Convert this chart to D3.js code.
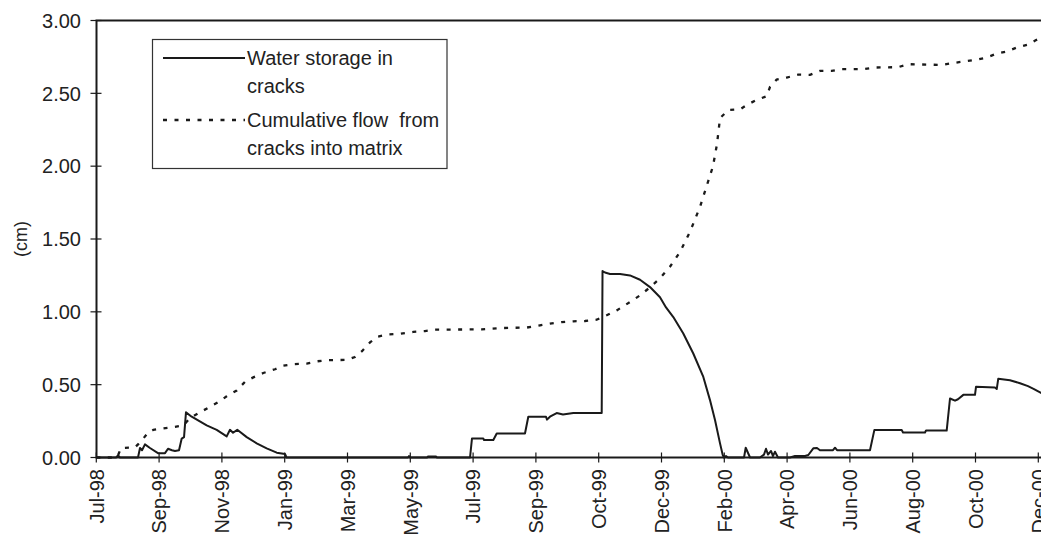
<!DOCTYPE html>
<html>
<head>
<meta charset="utf-8">
<script src="https://cdn.jsdelivr.net/npm/d3@7"></script>
<style>
  html, body { margin: 0; padding: 0; background: #fff; }
  svg { display: block; font-family: "Liberation Sans", Arial, sans-serif; }
</style>
</head>
<body>
<svg id="chart" width="1041" height="540"></svg>
<script>
// Category labels along the time axis (one tick per label, evenly spaced)
const tickLabels = ["Jul-98", "Sep-98", "Nov-98", "Jan-99", "Mar-99", "May-99", "Jul-99",
  "Sep-99", "Oct-99", "Dec-99", "Feb-00", "Apr-00", "Jun-00", "Aug-00", "Oct-00", "Dec-00"];

// Y axis ticks (cm)
const yTicks = [0, 0.5, 1.0, 1.5, 2.0, 2.5, 3.0];

// Water storage in cracks: [position along tick sequence, cm]
const storage = [
  [0, 0], [0.314, 0], [0.346, 0.015], [0.377, 0], [0.664, 0], [0.696, 0.065], [0.728, 0.05],
  [0.775, 0.09], [0.855, 0.065], [0.982, 0.03], [1.094, 0.03], [1.142, 0.06], [1.205, 0.05],
  [1.253, 0.045], [1.317, 0.05], [1.360, 0.13], [1.397, 0.14], [1.428, 0.31], [1.519, 0.28],
  [1.758, 0.22], [1.917, 0.19], [2.076, 0.145], [2.129, 0.19], [2.177, 0.17], [2.245, 0.19],
  [2.395, 0.14], [2.554, 0.097], [2.713, 0.063], [2.873, 0.033], [3.005, 0.024], [3.029, 0],
  [4.963, 0], [4.979, 0.01], [4.995, 0], [5.266, 0], [5.282, 0.007], [5.409, 0.007], [5.425, 0],
  [5.951, 0], [5.982, 0.13], [6.162, 0.13], [6.174, 0.12], [6.322, 0.12], [6.376, 0.165],
  [6.826, 0.165], [6.879, 0.28], [7.161, 0.28], [7.177, 0.26], [7.224, 0.28], [7.331, 0.305],
  [7.431, 0.295], [7.596, 0.305], [8.048, 0.305], [8.061, 1.28], [8.100, 1.27], [8.180, 1.26],
  [8.340, 1.26], [8.498, 1.25], [8.658, 1.22], [8.817, 1.17], [8.976, 1.10], [9.072, 1.03],
  [9.188, 0.964], [9.347, 0.851], [9.506, 0.714], [9.666, 0.553], [9.772, 0.394], [9.852, 0.257],
  [9.932, 0.097], [9.975, 0.017],
  [9.995, 0], [10.027, 0.01], [10.059, 0], [10.314, 0], [10.341, 0.067], [10.41, 0], [10.568, 0],
  [10.632, 0.02], [10.664, 0.06], [10.696, 0.02], [10.744, 0.045], [10.775, 0.01], [10.807, 0.04],
  [10.855, 0], [11.046, 0], [11.126, 0.01], [11.285, 0.01], [11.338, 0.017], [11.417, 0.063],
  [11.476, 0.065], [11.524, 0.05], [11.731, 0.05], [11.763, 0.067], [11.795, 0.05], [12.32, 0.05],
  [12.389, 0.188], [12.825, 0.188], [12.846, 0.172], [13.196, 0.172], [13.212, 0.185],
  [13.541, 0.185], [13.594, 0.405], [13.674, 0.39], [13.721, 0.40], [13.806, 0.43], [13.992, 0.43],
  [14.008, 0.485], [14.310, 0.48], [14.338, 0.47], [14.362, 0.54], [14.549, 0.53], [14.709, 0.51],
  [14.836, 0.49], [14.932, 0.47], [15.06, 0.44]
];

// Cumulative flow from cracks into matrix: [position along tick sequence, cm]
const flow = [
  [0, 0], [0.314, 0], [0.346, 0.015], [0.393, 0.065], [0.616, 0.07], [0.664, 0.09], [0.748, 0.13],
  [0.823, 0.17], [0.908, 0.19], [1.067, 0.20], [1.253, 0.21], [1.385, 0.22], [1.492, 0.27],
  [1.651, 0.31], [1.943, 0.38], [2.076, 0.42], [2.236, 0.46], [2.368, 0.52], [2.5, 0.55],
  [2.659, 0.58], [2.846, 0.606], [2.978, 0.63], [3.137, 0.64], [3.350, 0.645], [3.510, 0.66],
  [3.669, 0.668], [3.992, 0.67], [4.119, 0.69], [4.231, 0.73], [4.358, 0.79], [4.486, 0.83],
  [4.645, 0.845], [4.836, 0.85], [5.048, 0.862], [5.234, 0.868], [5.393, 0.878], [5.580, 0.878],
  [6.137, 0.88], [6.476, 0.889], [6.853, 0.892], [7.065, 0.907], [7.224, 0.919], [7.411, 0.93],
  [7.596, 0.935], [7.782, 0.937], [7.968, 0.946], [8.127, 0.976], [8.287, 1.01], [8.498, 1.067],
  [8.658, 1.113], [8.790, 1.159], [8.976, 1.23], [9.135, 1.31], [9.294, 1.41], [9.454, 1.55],
  [9.613, 1.72], [9.724, 1.87], [9.820, 2.00], [9.883, 2.15], [9.932, 2.33], [10.064, 2.385],
  [10.250, 2.39], [10.357, 2.42], [10.516, 2.455], [10.675, 2.48], [10.728, 2.545], [10.834, 2.594],
  [10.994, 2.608], [11.178, 2.629], [11.365, 2.627], [11.524, 2.654], [11.710, 2.654],
  [11.869, 2.666], [12.213, 2.666], [12.400, 2.677], [12.771, 2.68], [12.930, 2.70], [13.478, 2.695],
  [13.621, 2.707], [13.806, 2.718], [13.992, 2.729], [14.178, 2.745], [14.338, 2.773],
  [14.497, 2.787], [14.656, 2.814], [14.854, 2.837], [14.958, 2.864], [15.06, 2.885]
];

const legendItems = [
  { lines: ["Water storage in", "cracks"], dash: null },
  { lines: ["Cumulative flow  from", "cracks into matrix"], dash: "4,7.5" }
];

const svg = d3.select("#chart");
const ink = "#1a1a1a";

const plot = { left: 96.5, top: 20.5, right: 1046, bottom: 457.5 };

const x = d3.scaleLinear().domain([0, tickLabels.length - 1]).range([96.3, 1038.3]);
const y = d3.scaleLinear().domain([0, 3]).range([plot.bottom, plot.top]);

// Plot frame
svg.append("rect")
  .attr("x", plot.left).attr("y", plot.top)
  .attr("width", plot.right - plot.left).attr("height", plot.bottom - plot.top)
  .attr("fill", "none").attr("stroke", ink).attr("stroke-width", 2);

// Y axis: crossing ticks and labels
const yAxis = svg.append("g");
yAxis.selectAll("line").data(yTicks).join("line")
  .attr("x1", plot.left - 6).attr("x2", plot.left + 5)
  .attr("y1", d => y(d)).attr("y2", d => y(d))
  .attr("stroke", ink).attr("stroke-width", 1.2);
yAxis.selectAll("text").data(yTicks).join("text")
  .attr("x", 81).attr("y", d => y(d)).attr("dy", "0.36em")
  .attr("text-anchor", "end").attr("font-size", 20).attr("fill", "#222")
  .text(d => d3.format(".2f")(d));

svg.append("text")
  .attr("transform", `translate(21,${y(1.5)}) rotate(-90)`)
  .attr("text-anchor", "middle").attr("dy", "0.35em")
  .attr("font-size", 18).attr("fill", "#222")
  .text("(cm)");

// X axis: crossing ticks and rotated category labels
const xAxis = svg.append("g");
xAxis.selectAll("line").data(tickLabels).join("line")
  .attr("x1", (d, i) => x(i)).attr("x2", (d, i) => x(i))
  .attr("y1", plot.bottom - 5).attr("y2", plot.bottom + 5)
  .attr("stroke", ink).attr("stroke-width", 1.2);
xAxis.selectAll("text").data(tickLabels).join("text")
  .attr("transform", (d, i) => `translate(${x(i)},469) rotate(-90)`)
  .attr("text-anchor", "end").attr("dy", "0.36em")
  .attr("font-size", 20).attr("fill", "#222")
  .text(d => d);

// Series lines
const line = d3.line().x(d => x(d[0])).y(d => y(d[1]));

svg.append("path").datum(flow)
  .attr("d", line).attr("fill", "none")
  .attr("stroke", ink).attr("stroke-width", 2.3)
  .attr("stroke-dasharray", "4,7.5");

svg.append("path").datum(storage)
  .attr("d", line).attr("fill", "none")
  .attr("stroke", ink).attr("stroke-width", 2).attr("stroke-linejoin", "round");

// Legend
const lg = svg.append("g");
lg.append("rect")
  .attr("x", 152.5).attr("y", 39.5).attr("width", 294.5).attr("height", 129)
  .attr("fill", "#fff").attr("stroke", "#333").attr("stroke-width", 1.2);

legendItems.forEach((item, k) => {
  const ly = 58 + k * 62;
  lg.append("line")
    .attr("x1", 163).attr("x2", 245).attr("y1", ly).attr("y2", ly)
    .attr("stroke", ink).attr("stroke-width", item.dash ? 2.3 : 2)
    .attr("stroke-dasharray", item.dash);
  item.lines.forEach((t, j) => {
    lg.append("text")
      .attr("x", 247).attr("y", ly + 7 + j * 28)
      .attr("font-size", 20).attr("fill", "#222")
      .style("white-space", "pre")
      .text(t);
  });
});
</script>
</body>
</html>
